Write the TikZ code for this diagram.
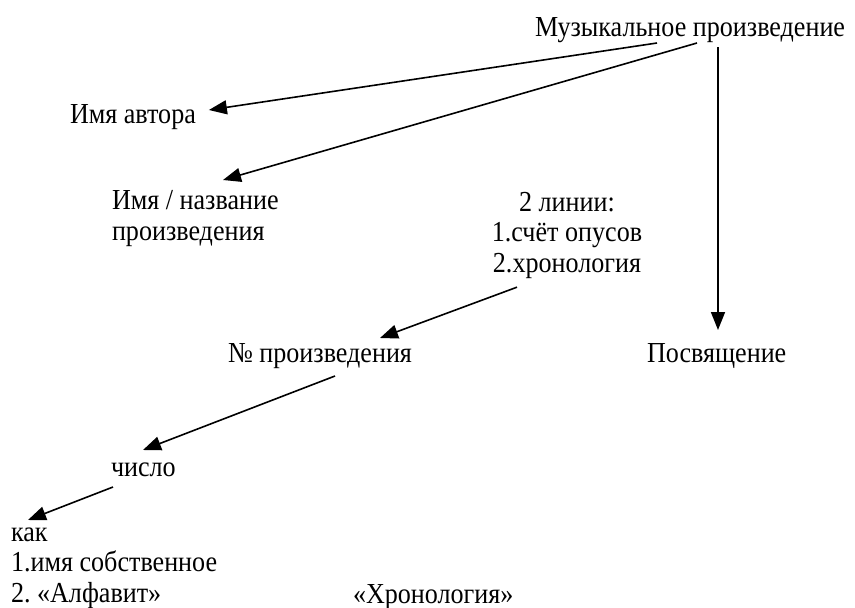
\documentclass[tikz,border=0pt]{standalone}
\usepackage{fontspec}
\setmainfont{Liberation Serif}[FakeStretch=0.9]
\frenchspacing
\usetikzlibrary{arrows.meta,calc}
\tikzset{
  lbl/.style={inner sep=0pt, outer sep=0pt, font=\fontsize{29}{30.5}\selectfont},
  arr/.style={line width=1.6pt, -{Triangle[length=18pt,width=14pt]}}
}
\begin{document}
\begin{tikzpicture}[x=1pt,y=-1pt]
\useasboundingbox (0,0) rectangle (855,608);
\node[lbl, anchor=base west] (top) at (535,36) {Музыкальное произведение};
\node[lbl, anchor=base west] (author) at (70,123) {Имя автора};
\node[lbl, anchor=base west, align=left] (title) at (112,240) {Имя / название\\произведения};
\node[lbl, anchor=base, align=center] (lines) at (567,272) {2 линии:\\1.счёт опусов\\2.хронология};
\node[lbl, anchor=base west] (num) at (228,362) {№ произведения};
\node[lbl, anchor=base west] (ded) at (647,362) {Посвящение};
\node[lbl, anchor=base west] (chislo) at (111,476) {число};
\node[lbl, anchor=base west, align=left] (kak) at (11,602) {как\\1.имя собственное\\2. «Алфавит»};
\node[lbl, anchor=base west] (chron) at (353,603) {«Хронология»};

\draw[arr] ($(top.base west)+(122,7)$) -- ($(author.base east)+(13,-13)$);
\draw[arr] ($(top.base west)+(162,7)$) -- ($(title.base west)+(111,-60)$);
\draw[arr] ($(top.base west)+(183,11)$) -- ($(ded.base west)+(71,-32)$);
\draw[arr] ($(lines.south)+(-50,9)$) -- ($(num.base west)+(152,-24)$);
\draw[arr] ($(num.base west)+(107,14)$) -- ($(chislo.base west)+(32,-26)$);
\draw[arr] ($(chislo.base west)+(2,11)$) -- ($(kak.base west)+(17,-82)$);
\end{tikzpicture}
\end{document}
